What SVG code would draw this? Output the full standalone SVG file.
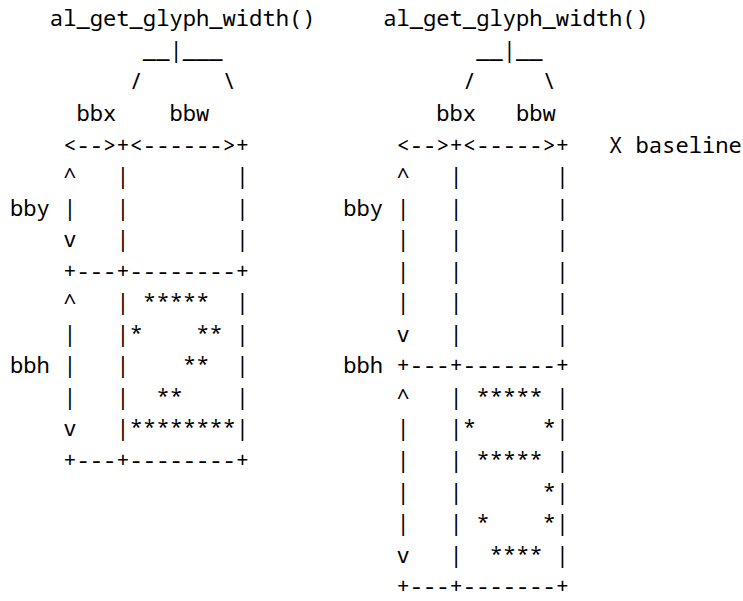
<svg xmlns="http://www.w3.org/2000/svg" width="743" height="601" viewBox="0 0 743 601">
<style>
  .mono { font-family: "Noto Sans Mono", "DejaVu Sans Mono", "Liberation Mono", monospace; font-size: 22.15px; fill: #000; }
</style>
<rect width="743" height="601" fill="#fff"/>
<!-- Glyph box for a glyph that reaches down to the baseline -->
<g id="glyph-box-left" class="mono">
<text x="10" y="26.3">&#160;&#160;&#160;al_get_glyph_width()</text>
<text x="10" y="57.85">&#160;&#160;&#160;&#160;&#160;&#160;&#160;&#160;&#160;&#160;__|___</text>
<text x="10" y="89.4">&#160;&#160;&#160;&#160;&#160;&#160;&#160;&#160;&#160;/&#160;&#160;&#160;&#160;&#160;&#160;\</text>
<text x="10" y="120.95">&#160;&#160;&#160;&#160;&#160;bbx&#160;&#160;&#160;&#160;bbw</text>
<text x="10" y="152.5">&#160;&#160;&#160;&#160;&lt;--&gt;+&lt;------&gt;+</text>
<text x="10" y="184.05">&#160;&#160;&#160;&#160;^&#160;&#160;&#160;|&#160;&#160;&#160;&#160;&#160;&#160;&#160;&#160;|</text>
<text x="10" y="215.6">bby&#160;|&#160;&#160;&#160;|&#160;&#160;&#160;&#160;&#160;&#160;&#160;&#160;|</text>
<text x="10" y="247.15">&#160;&#160;&#160;&#160;v&#160;&#160;&#160;|&#160;&#160;&#160;&#160;&#160;&#160;&#160;&#160;|</text>
<text x="10" y="278.7">&#160;&#160;&#160;&#160;+---+--------+</text>
<text x="10" y="310.25">&#160;&#160;&#160;&#160;^&#160;&#160;&#160;|&#160;*****&#160;&#160;|</text>
<text x="10" y="341.8">&#160;&#160;&#160;&#160;|&#160;&#160;&#160;|*&#160;&#160;&#160;&#160;**&#160;|</text>
<text x="10" y="373.35">bbh&#160;|&#160;&#160;&#160;|&#160;&#160;&#160;&#160;**&#160;&#160;|</text>
<text x="10" y="404.9">&#160;&#160;&#160;&#160;|&#160;&#160;&#160;|&#160;&#160;**&#160;&#160;&#160;&#160;|</text>
<text x="10" y="436.45">&#160;&#160;&#160;&#160;v&#160;&#160;&#160;|********|</text>
<text x="10" y="468">&#160;&#160;&#160;&#160;+---+--------+</text>
</g>
<!-- Glyph box for a glyph with a descender below the baseline -->
<g id="glyph-box-right" class="mono">
<text x="343.3" y="26.3">&#160;&#160;&#160;al_get_glyph_width()</text>
<text x="343.3" y="57.85">&#160;&#160;&#160;&#160;&#160;&#160;&#160;&#160;&#160;&#160;__|__</text>
<text x="343.3" y="89.4">&#160;&#160;&#160;&#160;&#160;&#160;&#160;&#160;&#160;/&#160;&#160;&#160;&#160;&#160;\</text>
<text x="343.3" y="120.95">&#160;&#160;&#160;&#160;&#160;&#160;&#160;bbx&#160;&#160;&#160;bbw</text>
<text x="343.3" y="152.5">&#160;&#160;&#160;&#160;&lt;--&gt;+&lt;-----&gt;+&#160;&#160;&#160;X&#160;baseline</text>
<text x="343.3" y="184.05">&#160;&#160;&#160;&#160;^&#160;&#160;&#160;|&#160;&#160;&#160;&#160;&#160;&#160;&#160;|</text>
<text x="343.3" y="215.6">bby&#160;|&#160;&#160;&#160;|&#160;&#160;&#160;&#160;&#160;&#160;&#160;|</text>
<text x="343.3" y="247.15">&#160;&#160;&#160;&#160;|&#160;&#160;&#160;|&#160;&#160;&#160;&#160;&#160;&#160;&#160;|</text>
<text x="343.3" y="278.7">&#160;&#160;&#160;&#160;|&#160;&#160;&#160;|&#160;&#160;&#160;&#160;&#160;&#160;&#160;|</text>
<text x="343.3" y="310.25">&#160;&#160;&#160;&#160;|&#160;&#160;&#160;|&#160;&#160;&#160;&#160;&#160;&#160;&#160;|</text>
<text x="343.3" y="341.8">&#160;&#160;&#160;&#160;v&#160;&#160;&#160;|&#160;&#160;&#160;&#160;&#160;&#160;&#160;|</text>
<text x="343.3" y="373.35">bbh&#160;+---+-------+</text>
<text x="343.3" y="404.9">&#160;&#160;&#160;&#160;^&#160;&#160;&#160;|&#160;*****&#160;|</text>
<text x="343.3" y="436.45">&#160;&#160;&#160;&#160;|&#160;&#160;&#160;|*&#160;&#160;&#160;&#160;&#160;*|</text>
<text x="343.3" y="468">&#160;&#160;&#160;&#160;|&#160;&#160;&#160;|&#160;*****&#160;|</text>
<text x="343.3" y="499.55">&#160;&#160;&#160;&#160;|&#160;&#160;&#160;|&#160;&#160;&#160;&#160;&#160;&#160;*|</text>
<text x="343.3" y="531.1">&#160;&#160;&#160;&#160;|&#160;&#160;&#160;|&#160;*&#160;&#160;&#160;&#160;*|</text>
<text x="343.3" y="562.65">&#160;&#160;&#160;&#160;v&#160;&#160;&#160;|&#160;&#160;****&#160;|</text>
<text x="343.3" y="594.2">&#160;&#160;&#160;&#160;+---+-------+</text>
</g>
</svg>
